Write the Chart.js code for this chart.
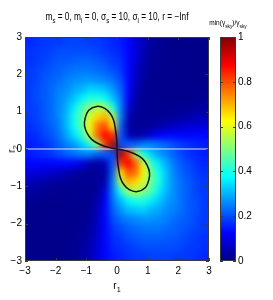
<!DOCTYPE html>
<html>
<head>
<meta charset="utf-8">
<script src="https://cdn.jsdelivr.net/npm/chart.js@4.4.0/dist/chart.umd.min.js"></script>
<style>
  html, body { margin: 0; padding: 0; background: #fff; }
  #wrap {
    position: relative; width: 273px; height: 300px; overflow: hidden;
    font-family: 'Liberation Sans Narrow', 'Arial Narrow', 'Liberation Sans', Arial, sans-serif;
    color: #000;
  }
  canvas { position: absolute; }
  #heatBase, #main { left: 0; top: 0; }
  #heatClip { position: absolute; left: 25px; top: 37px; width: 184px; height: 224px; overflow: hidden; }
  #heatSoft { left: -25px; top: -37px; filter: blur(3px); }
  #cbar { left: 200px; top: 0; }
  .lbl { position: absolute; white-space: nowrap; line-height: 1; }
  .lbl sub { font-size: 72%; vertical-align: baseline; position: relative; top: 0.4em; }
  #title { left: 117px; top: 12px; font-size: 10px; transform: translateX(-50%) scaleX(0.83); }
  #xTitle { left: 0; width: 234px; top: 281px; font-size: 10px; text-align: center; }
  #yTitle { left: 12px; top: 149px; font-size: 10px; transform: translate(-50%, -50%) rotate(-90deg); }
</style>
</head>
<body>
<div id="wrap">
  <canvas id="heatBase" width="273" height="300"></canvas>
  <div id="heatClip"><canvas id="heatSoft" width="273" height="300"></canvas></div>
  <canvas id="main" width="273" height="300"></canvas>
  <canvas id="cbar" width="73" height="300"></canvas>
  <div class="lbl" id="title">m<sub>s</sub> = 0, m<sub>l</sub> = 0, σ<sub>s</sub> = 10, σ<sub>l</sub> = 10, r = −Inf</div>
  <div class="lbl" id="xTitle">r<sub>1</sub></div>
  <div class="lbl" id="yTitle">r<sub>2</sub></div>
</div>
<script>
// ---- data ----
const r1Centers = [-2.875, -2.625, -2.375, -2.125, -1.875, -1.625, -1.375, -1.125, -0.875, -0.625, -0.375, -0.125,
                    0.125,  0.375,  0.625,  0.875,  1.125,  1.375,  1.625,  1.875,  2.125,  2.375,  2.625,  2.875];
const r2Centers = [ 2.875,  2.625,  2.375,  2.125,  1.875,  1.625,  1.375,  1.125,  0.875,  0.625,  0.375,  0.125,
                   -0.125, -0.375, -0.625, -0.875, -1.125, -1.375, -1.625, -1.875, -2.125, -2.375, -2.625, -2.875];

// min(gamma_sky)/gamma_sky, one row per r2 (top to bottom), one column per r1
const gammaRatio = [
  [0.16,0.17,0.18,0.18,0.18,0.19,0.19,0.19,0.18,0.18,0.17,0.16, 0.15,0.13,0.09,0.057,0.033,0.019,0.014,0.011,0.011,0.010,0.010,0.010],
  [0.17,0.18,0.18,0.19,0.20,0.20,0.20,0.20,0.20,0.19,0.18,0.17, 0.16,0.13,0.087,0.050,0.027,0.017,0.013,0.011,0.011,0.011,0.010,0.010],
  [0.17,0.18,0.19,0.20,0.21,0.21,0.22,0.22,0.22,0.21,0.20,0.18, 0.17,0.13,0.081,0.043,0.023,0.015,0.013,0.012,0.012,0.011,0.011,0.010],
  [0.18,0.19,0.20,0.21,0.22,0.23,0.24,0.24,0.24,0.23,0.22,0.20, 0.18,0.13,0.074,0.035,0.019,0.014,0.013,0.012,0.012,0.012,0.011,0.011],
  [0.18,0.19,0.21,0.22,0.23,0.25,0.26,0.27,0.27,0.26,0.25,0.23, 0.20,0.13,0.064,0.028,0.017,0.014,0.013,0.013,0.012,0.012,0.011,0.011],
  [0.18,0.20,0.21,0.23,0.25,0.26,0.29,0.30,0.33,0.32,0.31,0.27, 0.22,0.13,0.053,0.023,0.016,0.015,0.014,0.013,0.013,0.012,0.013,0.014],
  [0.18,0.20,0.21,0.23,0.26,0.28,0.32,0.36,0.40,0.40,0.37,0.31, 0.24,0.12,0.039,0.020,0.018,0.016,0.015,0.014,0.014,0.015,0.017,0.019],
  [0.18,0.19,0.21,0.23,0.26,0.30,0.36,0.45,0.50,0.55,0.53,0.40, 0.25,0.09,0.028,0.021,0.019,0.018,0.016,0.017,0.019,0.023,0.027,0.033],
  [0.18,0.19,0.21,0.23,0.26,0.31,0.40,0.47,0.58,0.66,0.70,0.55, 0.25,0.05,0.024,0.022,0.021,0.020,0.023,0.028,0.035,0.043,0.050,0.057],
  [0.17,0.18,0.20,0.22,0.25,0.31,0.39,0.47,0.63,0.76,0.80,0.64, 0.22,0.03,0.025,0.024,0.028,0.039,0.053,0.064,0.074,0.081,0.087,0.090],
  [0.16,0.17,0.19,0.21,0.24,0.29,0.35,0.42,0.58,0.78,0.88,0.82, 0.22,0.06,0.03,0.05,0.09,0.12,0.13,0.13,0.13,0.13,0.13,0.13],
  [0.15,0.16,0.17,0.19,0.22,0.25,0.28,0.33,0.40,0.53,0.82,0.96, 0.20,0.22,0.22,0.25,0.25,0.24,0.22,0.20,0.18,0.17,0.16,0.15],
  [0.15,0.16,0.17,0.18,0.20,0.22,0.24,0.25,0.25,0.22,0.22,0.20, 0.96,0.82,0.53,0.40,0.33,0.28,0.25,0.22,0.19,0.17,0.16,0.15],
  [0.13,0.13,0.13,0.13,0.13,0.13,0.12,0.09,0.05,0.03,0.06,0.22, 0.82,0.88,0.78,0.58,0.42,0.35,0.29,0.24,0.21,0.19,0.17,0.16],
  [0.090,0.087,0.081,0.074,0.064,0.053,0.039,0.028,0.024,0.025,0.03,0.22, 0.64,0.80,0.76,0.63,0.47,0.39,0.31,0.25,0.22,0.20,0.18,0.17],
  [0.057,0.050,0.043,0.035,0.028,0.023,0.020,0.021,0.022,0.024,0.05,0.25, 0.55,0.70,0.66,0.58,0.47,0.40,0.31,0.26,0.23,0.21,0.19,0.18],
  [0.033,0.027,0.023,0.019,0.017,0.016,0.018,0.019,0.021,0.028,0.09,0.25, 0.40,0.53,0.55,0.50,0.45,0.36,0.30,0.26,0.23,0.21,0.19,0.18],
  [0.019,0.017,0.015,0.014,0.014,0.015,0.016,0.018,0.020,0.039,0.12,0.24, 0.31,0.37,0.40,0.40,0.36,0.32,0.28,0.26,0.23,0.21,0.20,0.18],
  [0.014,0.013,0.012,0.013,0.013,0.014,0.015,0.016,0.023,0.053,0.13,0.22, 0.27,0.31,0.32,0.33,0.30,0.29,0.26,0.25,0.23,0.21,0.20,0.18],
  [0.011,0.011,0.012,0.012,0.013,0.013,0.014,0.017,0.028,0.064,0.13,0.20, 0.23,0.25,0.26,0.27,0.27,0.26,0.25,0.23,0.22,0.21,0.19,0.18],
  [0.011,0.011,0.012,0.012,0.012,0.013,0.014,0.019,0.035,0.074,0.13,0.18, 0.20,0.22,0.23,0.24,0.24,0.24,0.23,0.22,0.21,0.20,0.19,0.18],
  [0.010,0.011,0.011,0.012,0.012,0.013,0.015,0.023,0.043,0.081,0.13,0.17, 0.18,0.20,0.21,0.22,0.22,0.22,0.21,0.21,0.20,0.19,0.18,0.17],
  [0.010,0.010,0.011,0.011,0.011,0.013,0.017,0.027,0.050,0.087,0.13,0.16, 0.17,0.18,0.19,0.20,0.20,0.20,0.20,0.20,0.19,0.18,0.18,0.17],
  [0.010,0.010,0.010,0.011,0.011,0.014,0.019,0.033,0.057,0.09,0.13,0.15, 0.16,0.17,0.18,0.18,0.19,0.19,0.19,0.18,0.18,0.18,0.17,0.16]
];

// contour lobes (r1, r2)
const lobeUpperR1 = [0, -0.22, -0.55, -0.82, -0.98, -1.06, -1.04, -0.92, -0.66, -0.40, -0.22, -0.11, -0.05, -0.01, 0];
const lobeUpperR2 = [0,  0.03,  0.12,  0.25,  0.43,  0.63,  0.82,  1.04,  1.14,  1.09,  0.95,  0.77,  0.52,  0.25, 0];
const lobeLowerR1 = [0,  0.22,  0.55,  0.82,  0.98,  1.06,  1.04,  0.92,  0.66,  0.40,  0.22,  0.11,  0.05,  0.01, 0];
const lobeLowerR2 = [0, -0.03, -0.12, -0.25, -0.43, -0.63, -0.82, -1.04, -1.14, -1.09, -0.95, -0.77, -0.52, -0.25, 0];

// the white line along r2 = 0
const zeroLineR1 = [-3, 3];
const zeroLineR2 = [0, 0];

const r1Ticks = [-3, -2, -1, 0, 1, 2, 3];
const r2Ticks = [-3, -2, -1, 0, 1, 2, 3];
const cbTicks = [0, 0.2, 0.4, 0.6, 0.8, 1];
const jetStops = [0, 0.125, 0.375, 0.625, 0.875, 1];

const FONT = "'Liberation Sans Narrow', 'Arial Narrow', 'Liberation Sans', Arial, sans-serif";

// MATLAB jet colormap
function jet(v) {
  const c = t => Math.round(255 * Math.max(0, Math.min(1, 1.5 - Math.abs(t))));
  return `rgb(${c(4 * v - 3)},${c(4 * v - 2)},${c(4 * v - 1)})`;
}

function minusSign(v) {
  return String(v).replace('-', '\u2212');
}

// box around the axes, with MATLAB-style inward ticks
const axesBox = {
  id: 'axesBox',
  afterDatasetsDraw(chart) {
    const { ctx, chartArea: a, scales } = chart;
    ctx.save();
    ctx.strokeStyle = '#3a3a3a';
    ctx.lineWidth = 1;
    ctx.strokeRect(a.left + 0.5, a.top + 0.5, a.right - a.left - 1, a.bottom - a.top - 1);
    ctx.beginPath();
    if (scales.x && scales.x.options.display) {
      scales.x.ticks.forEach(t => {
        const px = Math.round(scales.x.getPixelForValue(t.value)) + 0.5;
        ctx.moveTo(px, a.bottom); ctx.lineTo(px, a.bottom - 3);
        ctx.moveTo(px, a.top); ctx.lineTo(px, a.top + 3);
      });
    }
    if (scales.y) {
      scales.y.ticks.forEach(t => {
        const py = Math.round(scales.y.getPixelForValue(t.value)) + 0.5;
        ctx.moveTo(a.left, py); ctx.lineTo(a.left + 3, py);
        ctx.moveTo(a.right, py); ctx.lineTo(a.right - 3, py);
      });
    }
    ctx.stroke();
    ctx.restore();
  }
};

// colour bar caption with subscripts: min(γ_sky)/γ_sky
const cbCaption = {
  id: 'cbCaption',
  afterDraw(chart) {
    const { ctx, chartArea: a } = chart;
    const parts = [['min(\u03B3', false], ['sky', true], [')/\u03B3', false], ['sky', true]];
    const big = `6.5px ${FONT}`, small = `4.8px ${FONT}`;
    ctx.save();
    let w = 0;
    parts.forEach(([t, sub]) => { ctx.font = sub ? small : big; w += ctx.measureText(t).width; });
    let x = (a.left + a.right) / 2 - w / 2;
    ctx.fillStyle = '#000';
    ctx.textBaseline = 'alphabetic';
    parts.forEach(([t, sub]) => {
      ctx.font = sub ? small : big;
      ctx.fillText(t, x, sub ? 28 : 25);
      x += ctx.measureText(t).width;
    });
    ctx.restore();
  }
};

// shared axis layout so the heat map canvases line up with the main axes
function axes(showTicks) {
  const tickFont = { family: FONT, size: 10 };
  return {
    x: {
      type: 'linear', min: -3, max: 3, offset: false,
      afterBuildTicks: s => { s.ticks = r1Ticks.map(v => ({ value: v })); },
      afterFit: s => { s.height = 39; },
      grid: { display: false, drawTicks: false, offset: false },
      border: { display: false },
      ticks: { display: showTicks, color: '#000', padding: 4, maxRotation: 0, font: tickFont, callback: minusSign }
    },
    y: {
      type: 'linear', min: -3, max: 3,
      afterBuildTicks: s => { s.ticks = r2Ticks.map(v => ({ value: v })); },
      afterFit: s => { s.width = 25; },
      grid: { display: false, drawTicks: false },
      border: { display: false },
      ticks: { display: showTicks, color: '#000', padding: 3, font: tickFont, callback: minusSign }
    }
  };
}

const baseOptions = showTicks => ({
  responsive: false,
  animation: false,
  layout: { padding: { left: 0, right: 64, top: 37, bottom: 0 } },
  plugins: { legend: { display: false }, tooltip: { enabled: false } },
  scales: axes(showTicks)
});

// ---- heat map: one row of floating bars per r2 ----
const cellH = r2Centers[0] - r2Centers[1];

function heatSets() {
  return gammaRatio.map((row, j) => ({
    data: row.map((v, i) => ({ x: r1Centers[i], y: [r2Centers[j] - cellH * 0.52, r2Centers[j] + cellH * 0.52] })),
    backgroundColor: row.map(jet),
    borderWidth: 0,
    grouped: false,
    barPercentage: 1.05,
    categoryPercentage: 1
  }));
}

// sharp copy underneath, softened copy on top (like shading interp)
['heatBase', 'heatSoft'].forEach(id => {
  new Chart(document.getElementById(id), {
    type: 'bar',
    data: { datasets: heatSets() },
    options: baseOptions(false)
  });
});

function lineSet(xs, ys, color, width) {
  return {
    data: xs.map((x, i) => ({ x, y: ys[i] })),
    showLine: true,
    borderColor: color,
    borderWidth: width,
    pointRadius: 0,
    tension: 0.35,
    fill: false
  };
}

new Chart(document.getElementById('main'), {
  type: 'scatter',
  data: {
    datasets: [
      lineSet(lobeUpperR1, lobeUpperR2, '#141414', 1.5),
      lineSet(lobeLowerR1, lobeLowerR2, '#141414', 1.5),
      lineSet(zeroLineR1, zeroLineR2, '#e4e4ee', 1.2)
    ]
  },
  options: baseOptions(true),
  plugins: [axesBox]
});

// ---- colour bar ----
new Chart(document.getElementById('cbar'), {
  type: 'bar',
  data: {
    labels: ['jet'],
    datasets: [{
      data: [[0, 1]],
      backgroundColor: ctx => {
        const a = ctx.chart.chartArea;
        if (!a) return jet(0.5);
        const g = ctx.chart.ctx.createLinearGradient(0, a.bottom, 0, a.top);
        jetStops.forEach(s => g.addColorStop(s, jet(s)));
        return g;
      },
      borderWidth: 0,
      barPercentage: 1,
      categoryPercentage: 1
    }]
  },
  options: {
    responsive: false,
    animation: false,
    layout: { padding: { left: 20, right: 0, top: 37, bottom: 39 } },
    plugins: { legend: { display: false }, tooltip: { enabled: false } },
    scales: {
      x: { display: false },
      y: {
        position: 'right', min: 0, max: 1,
        afterBuildTicks: s => { s.ticks = cbTicks.map(v => ({ value: v })); },
        afterFit: s => { s.width = 37; },
        grid: { display: false, drawTicks: false },
        border: { display: false },
        ticks: { color: '#000', padding: 2, font: { family: FONT, size: 10 }, callback: v => String(v) }
      }
    }
  },
  plugins: [axesBox, cbCaption]
});
</script>
</body>
</html>
